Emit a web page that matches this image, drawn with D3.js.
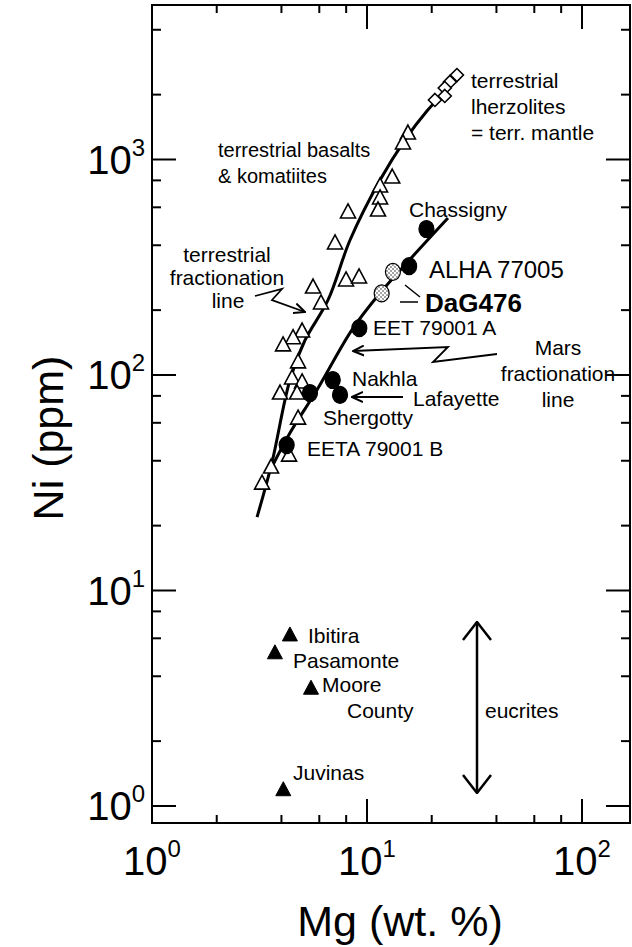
<!DOCTYPE html>
<html>
<head>
<meta charset="utf-8">
<script src="https://cdn.jsdelivr.net/npm/d3@7"></script>
<style>
  body { margin: 0; background: #fff; }
  text { font-family: "Liberation Sans", Arial, Helvetica, sans-serif; fill: #000; }
</style>
</head>
<body>
<svg id="chart" width="632" height="947"></svg>
<script>
// Mg (wt. %) vs Ni (ppm), both log scales

// terrestrial basalts & komatiites (open triangles)
const basaltMg = [15.5, 14.7, 13.1, 11.5, 11.5, 11.25, 8.16, 7.10, 7.99, 9.18, 5.61, 6.11,
                  4.99, 4.53, 4.07, 4.78, 4.48, 4.99, 3.94, 4.73, 4.78, 4.34, 3.58, 3.25];
const basaltNi = [1327, 1193, 829, 754, 663, 583, 571, 410, 276, 285, 256, 216,
                  160, 149, 138, 115, 96.9, 92.8, 82.5, 82.5, 63.1, 42.5, 37.4, 31.5];

// terrestrial lherzolites (open diamonds)
const lherzMg = [26.2, 24.3, 23.0, 23.0, 20.7];
const lherzNi = [2466, 2290, 2147, 1972, 1889];

// martian meteorites (filled circles, DaG476 stippled)
const marsNames = ["Chassigny", "ALHA 77005", "DaG476", "DaG476", "EET 79001 A",
                   "Nakhla", "Lafayette", "Shergotty", "EETA 79001 B"];
const marsMg = [18.9, 15.7, 13.2, 11.7, 9.21, 6.93, 7.49, 5.43, 4.23];
const marsNi = [476, 320, 301, 239, 165, 94.8, 80.8, 82.5, 47.3];

// eucrites (filled triangles)
const eucNames = ["Ibitira", "Pasamonte", "Moore County", "Juvinas"];
const eucMg = [4.38, 3.73, 5.49, 4.08];
const eucNi = [6.22, 5.14, 3.52, 1.19];

// fractionation lines
const terrLineMg = [3.08, 3.61, 4.38, 5.15, 6.59, 8.34, 11.5, 15.0, 19.0, 21.9];
const terrLineNi = [21.9, 39.1, 94.8, 145, 223, 423, 803, 1231, 1679, 1950];
const marsLineMg = [3.61, 4.38, 5.85, 8.51, 11.5, 15.3, 23.8];
const marsLineNi = [37.4, 53.8, 85.2, 162, 240, 331, 535];

// axis ticks
const xMajor = [1, 10, 100];
const xMinor = [2, 4, 6, 8, 20, 40, 60, 80];
const yMajor = [1, 10, 100, 1000];
const yMinor = [2, 4, 6, 8, 20, 40, 60, 80, 200, 400, 600, 800, 2000, 4000];
const tickExp = ["0", "1", "2", "3"];

const svg = d3.select("#chart");

// plot frame
const frameL = 152, frameR = 630, frameT = 5, frameB = 823;

const x = d3.scaleLog().domain([1, 100]).range([152, 582]);
const y = d3.scaleLog().domain([1, 1000]).range([806, 159.5]);

// frame
svg.append("rect")
    .attr("x", frameL).attr("y", frameT)
    .attr("width", frameR - frameL).attr("height", frameB - frameT)
    .attr("fill", "none").attr("stroke", "#000").attr("stroke-width", 2);

// ticks pointing inward on all four sides
const tickG = svg.append("g").attr("stroke", "#000").attr("stroke-width", 2);
for (let v of xMajor.concat(xMinor)) {
    let len = xMajor.includes(v) ? 24 : 8;
    if (x(v) < frameL || x(v) > frameR) continue;
    tickG.append("line").attr("x1", x(v)).attr("x2", x(v)).attr("y1", frameB).attr("y2", frameB - len);
    tickG.append("line").attr("x1", x(v)).attr("x2", x(v)).attr("y1", frameT).attr("y2", frameT + len);
}
for (let v of yMajor.concat(yMinor)) {
    let len = yMajor.includes(v) ? 24 : 9;
    if (y(v) < frameT || y(v) > frameB) continue;
    tickG.append("line").attr("y1", y(v)).attr("y2", y(v)).attr("x1", frameL).attr("x2", frameL + len);
    tickG.append("line").attr("y1", y(v)).attr("y2", y(v)).attr("x1", frameR).attr("x2", frameR - len);
}

// tick labels with superscript exponents
xMajor.forEach((v, i) => {
    let t = svg.append("text").attr("x", x(v)).attr("y", 875)
        .attr("text-anchor", "middle").style("font-size", "40px");
    t.append("tspan").text("10");
    t.append("tspan").attr("dy", -18).style("font-size", "24px").text(tickExp[i]);
});
yMajor.forEach((v, i) => {
    let t = svg.append("text").attr("x", 145).attr("y", y(v) + 14)
        .attr("text-anchor", "end").style("font-size", "40px");
    t.append("tspan").text("10");
    t.append("tspan").attr("dy", -18).style("font-size", "24px").text(tickExp[i]);
});

// axis titles
svg.append("text").attr("x", 400).attr("y", 936)
    .attr("text-anchor", "middle").style("font-size", "43px").text("Mg (wt. %)");
svg.append("text").attr("transform", "translate(63,438) rotate(-90)")
    .attr("text-anchor", "middle").style("font-size", "43px").text("Ni (ppm)");

// fractionation lines
const line = d3.line().curve(d3.curveCatmullRom)
    .x(d => x(d[0])).y(d => y(d[1]));
svg.append("path").datum(d3.zip(terrLineMg, terrLineNi))
    .attr("d", line).attr("fill", "none").attr("stroke", "#000").attr("stroke-width", 3);
svg.append("path").datum(d3.zip(marsLineMg, marsLineNi))
    .attr("d", line).attr("fill", "none").attr("stroke", "#000").attr("stroke-width", 3);

// triangle path centred on a point
function tri(cx, cy) {
    return `M${cx},${cy - 8}L${cx + 7.5},${cy + 6}L${cx - 7.5},${cy + 6}Z`;
}
function diamond(cx, cy) {
    return `M${cx},${cy - 6.5}L${cx + 6.5},${cy}L${cx},${cy + 6.5}L${cx - 6.5},${cy}Z`;
}

// stipple pattern for DaG476
const defs = svg.append("defs");
const pat = defs.append("pattern").attr("id", "stipple")
    .attr("width", 4).attr("height", 4).attr("patternUnits", "userSpaceOnUse");
pat.append("rect").attr("width", 4).attr("height", 4).attr("fill", "#fff");
pat.append("circle").attr("cx", 1).attr("cy", 1).attr("r", 0.7).attr("fill", "#000");
pat.append("circle").attr("cx", 3).attr("cy", 3).attr("r", 0.7).attr("fill", "#000");

// open triangles
svg.append("g").selectAll("path").data(d3.zip(basaltMg, basaltNi)).join("path")
    .attr("d", d => tri(x(d[0]), y(d[1])))
    .attr("fill", "#fff").attr("stroke", "#000").attr("stroke-width", 1.6);

// open diamonds
svg.append("g").selectAll("path").data(d3.zip(lherzMg, lherzNi)).join("path")
    .attr("d", d => diamond(x(d[0]), y(d[1])))
    .attr("fill", "#fff").attr("stroke", "#000").attr("stroke-width", 1.6);

// martian meteorites
svg.append("g").selectAll("ellipse").data(d3.zip(marsMg, marsNi, marsNames)).join("ellipse")
    .attr("cx", d => x(d[0])).attr("cy", d => y(d[1]))
    .attr("rx", 7.5).attr("ry", 8.5)
    .attr("fill", d => d[2] == "DaG476" ? "url(#stipple)" : "#000")
    .attr("stroke", "#000").attr("stroke-width", 1.2);

// eucrites
svg.append("g").selectAll("path").data(d3.zip(eucMg, eucNi)).join("path")
    .attr("d", d => tri(x(d[0]), y(d[1])))
    .attr("fill", "#000").attr("stroke", "#000").attr("stroke-width", 1);

// annotations
const labels = [
    ["terrestrial", 471, 88, 21, "start"],
    ["lherzolites", 471, 114, 21, "start"],
    ["= terr. mantle", 471, 140, 21, "start"],
    ["terrestrial basalts", 218, 157, 20, "start"],
    ["& komatiites", 218, 183, 20, "start"],
    ["terrestrial", 227, 262, 21, "middle"],
    ["fractionation", 227, 285, 21, "middle"],
    ["line", 228, 308, 21, "middle"],
    ["Chassigny", 409, 217, 21, "start"],
    ["ALHA 77005", 429, 278, 24, "start"],
    ["EET 79001 A", 373, 335, 21, "start"],
    ["Mars", 558, 355, 21, "middle"],
    ["fractionation", 558, 381, 21, "middle"],
    ["line", 558, 407, 21, "middle"],
    ["Nakhla", 352, 386, 21, "start"],
    ["Lafayette", 413, 406, 21, "start"],
    ["Shergotty", 323, 425, 21, "start"],
    ["EETA 79001 B", 307, 456, 21, "start"],
    ["Ibitira", 308, 643, 21, "start"],
    ["Pasamonte", 293, 668, 21, "start"],
    ["Moore", 322, 692, 21, "start"],
    ["County", 347, 718, 21, "start"],
    ["eucrites", 485, 718, 21, "start"],
    ["Juvinas", 293, 780, 21, "start"]
];
svg.append("g").selectAll("text").data(labels).join("text")
    .attr("x", d => d[1]).attr("y", d => d[2])
    .attr("text-anchor", d => d[4])
    .style("font-size", d => d[3] + "px")
    .text(d => d[0]);
svg.append("text").attr("x", 425).attr("y", 312)
    .style("font-size", "26px").style("font-weight", "bold").text("DaG476");

// arrow heads
defs.append("marker").attr("id", "head")
    .attr("viewBox", "0 0 12 12").attr("refX", 11).attr("refY", 6)
    .attr("markerWidth", 12).attr("markerHeight", 12).attr("markerUnits", "userSpaceOnUse")
    .attr("orient", "auto")
    .append("path").attr("d", "M0,1L11,6L0,11").attr("fill", "none")
    .attr("stroke", "#000").attr("stroke-width", 2);
defs.append("marker").attr("id", "bighead")
    .attr("viewBox", "0 0 20 32").attr("refX", 19).attr("refY", 16)
    .attr("markerWidth", 20).attr("markerHeight", 32).attr("markerUnits", "userSpaceOnUse")
    .attr("orient", "auto-start-reverse")
    .append("path").attr("d", "M1,2L19,16L1,30").attr("fill", "none")
    .attr("stroke", "#000").attr("stroke-width", 2.5);

const arrows = [
    [[255, 296], [282, 289], [272, 300], [305, 312]],
    [[497, 354], [433, 362], [448, 347], [353, 351]],
    [[403, 397], [352, 397]]
];
svg.append("g").selectAll("path").data(arrows).join("path")
    .attr("d", d => d3.line()(d))
    .attr("fill", "none").attr("stroke", "#000").attr("stroke-width", 1.8)
    .attr("marker-end", "url(#head)");

// DaG476 leader lines
svg.append("path").attr("d", "M405,285L420,297M400,302L418,302")
    .attr("stroke", "#000").attr("stroke-width", 1.5);

// eucrites range arrow
svg.append("line").attr("x1", 477).attr("x2", 477).attr("y1", 622).attr("y2", 793)
    .attr("stroke", "#000").attr("stroke-width", 2.5)
    .attr("marker-start", "url(#bighead)").attr("marker-end", "url(#bighead)");
</script>
</body>
</html>
